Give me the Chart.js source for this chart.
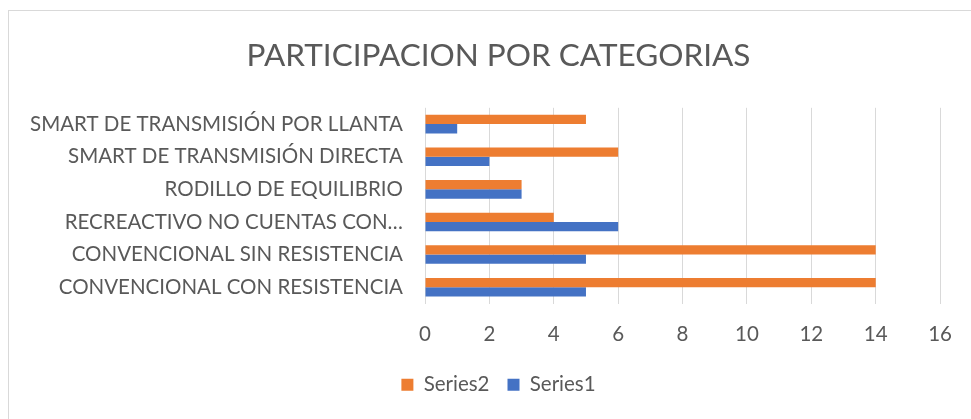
<!DOCTYPE html>
<html>
<head>
<meta charset="utf-8">
<script src="https://cdn.jsdelivr.net/npm/chart.js@4.4.1/dist/chart.umd.min.js"></script>
<style>
  html, body { margin: 0; padding: 0; background: #fff; }
  #wrap { position: relative; width: 971px; height: 419px; }
  #frame { position: absolute; left: 8px; top: 10px; width: 980px; height: 420px; border: 1px solid #d9d9d9; box-sizing: border-box; }
  canvas { position: absolute; left: 0; top: 0; }
</style>
</head>
<body>
<div id="wrap">
  <div id="frame"></div>
  <canvas id="chart" width="971" height="419"></canvas>
</div>
<script>
const categories = [
  'SMART DE TRANSMISIÓN POR LLANTA',
  'SMART DE TRANSMISIÓN DIRECTA',
  'RODILLO DE EQUILIBRIO',
  'RECREACTIVO NO CUENTAS CON…',
  'CONVENCIONAL SIN RESISTENCIA',
  'CONVENCIONAL CON RESISTENCIA'
];
const series2 = [5, 6, 3, 4, 14, 14];
const series1 = [1, 2, 3, 6, 5, 5];

const font = "Lato, 'Open Sans', sans-serif";
const textColor = '#595959';

const ctx = document.getElementById('chart');

// y labels are clipped to the scale box, so open it up to the canvas edge
const unclipLabels = {
  id: 'unclipLabels',
  afterLayout(chart) { chart.scales.y.left = 0; }
};

new Chart(ctx, {
  type: 'bar',
  data: {
    labels: categories,
    datasets: [
      { label: 'Series2', data: series2, backgroundColor: '#ed7d31', categoryPercentage: 0.57, barPercentage: 1 },
      { label: 'Series1', data: series1, backgroundColor: '#4472c4', categoryPercentage: 0.57, barPercentage: 1 }
    ]
  },
  plugins: [unclipLabels],
  options: {
    indexAxis: 'y',
    responsive: false,
    animation: false,
    // wide left padding keeps title + legend centred like the original
    layout: { padding: { left: 47, right: 21, top: 10, bottom: 14 } },
    scales: {
      x: {
        min: 0,
        max: 16,
        ticks: { stepSize: 2, color: textColor, font: { family: font, size: 20.5 }, padding: 19 },
        grid: { color: '#d9d9d9', lineWidth: 1, drawTicks: false },
        border: { display: false },
        afterFit(scale) { scale.height = 53; }
      },
      y: {
        ticks: { color: textColor, font: { family: font, size: 20.5 }, padding: 22 },
        grid: { display: false, drawTicks: false },
        border: { display: false },
        afterFit(scale) { scale.width = 378; }
      }
    },
    plugins: {
      title: {
        display: true,
        text: 'PARTICIPACION POR CATEGORIAS',
        color: textColor,
        font: { family: font, size: 31.5, weight: 'normal' },
        padding: { top: 27, bottom: 33 }
      },
      legend: {
        position: 'bottom',
        labels: { color: textColor, font: { family: font, size: 20.5 }, boxWidth: 12, boxHeight: 12, padding: 18 }
      },
      tooltip: { enabled: false }
    }
  }
});
</script>
</body>
</html>
